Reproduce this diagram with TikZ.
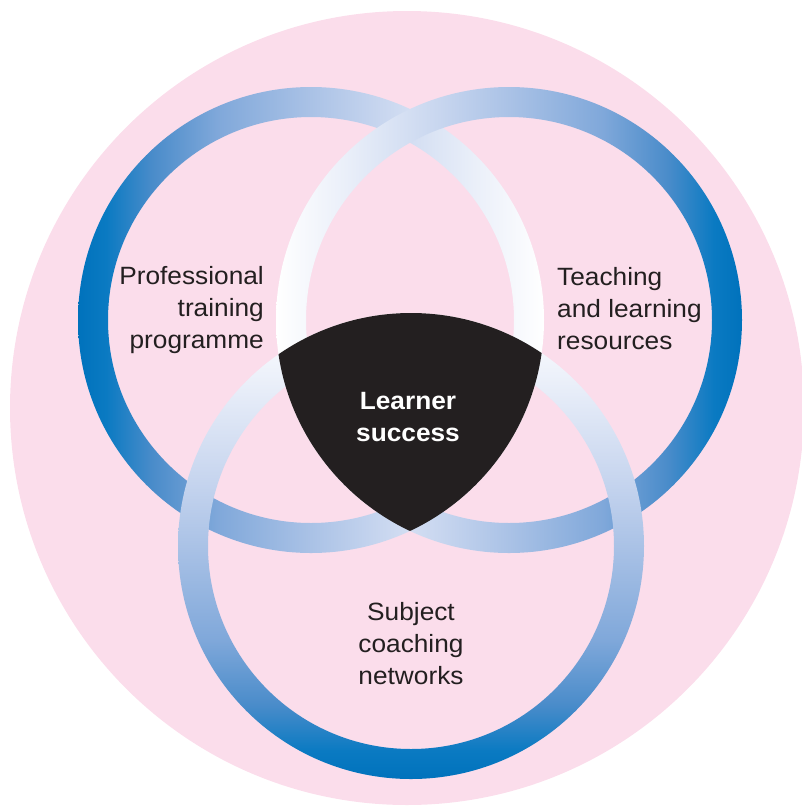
\documentclass[tikz,border=0pt]{standalone}
\usepackage{fontspec}
\setmainfont{Liberation Sans}[FakeStretch=1.05]

\definecolor{pinkbg}{HTML}{FBDDEB}
\definecolor{inkdark}{HTML}{231F20}
\definecolor{rb0}{HTML}{0072BC}
\definecolor{rb1}{HTML}{0A7AC2}
\definecolor{rb2}{HTML}{4A8CCA}
\definecolor{rb3}{HTML}{80A8DA}
\definecolor{rb4}{HTML}{AAC2E6}
\definecolor{rb5}{HTML}{C8D6EF}
\definecolor{rb6}{HTML}{EAEFF9}

% blue-to-white fade across a ring (the middle 25bp--75bp spans the ring)
\pgfdeclarehorizontalshading{ringfade}{100bp}{%
  color(0bp)=(rb0); color(25bp)=(rb0); color(28bp)=(rb1); color(33bp)=(rb2);
  color(40bp)=(rb3); color(50bp)=(rb4); color(57.5bp)=(rb5); color(67.5bp)=(rb6);
  color(75bp)=(white); color(100bp)=(white)}
\pgfdeclareverticalshading{ringfadev}{100bp}{%
  color(0bp)=(rb0); color(25bp)=(rb0); color(28bp)=(rb1); color(33bp)=(rb2);
  color(40bp)=(rb3); color(50bp)=(rb4); color(57.5bp)=(rb5); color(67.5bp)=(rb6);
  color(75bp)=(white); color(100bp)=(white)}

\begin{document}
\begin{tikzpicture}[x=1pt, y=-1pt,
  ringtext/.style={text=inkdark, font=\fontsize{25}{32}\selectfont, inner sep=0pt},
  centretext/.style={text=white, font=\fontsize{25}{32}\selectfont\bfseries, inner sep=0pt, align=center},
  ringband/.style={even odd rule}]
\useasboundingbox (0,0) rectangle (802,807);

% background disc
\fill[pinkbg] (407,408) circle[radius=397pt];

% ring centres
\coordinate (L) at (311,320);
\coordinate (R) at (509,320);
\coordinate (B) at (411,546);

% the three rings
\shade[ringband, shading=ringfade]
  (L) circle[radius=233pt] (L) circle[radius=203pt];
\shade[ringband, shading=ringfade, shading angle=180]
  (R) circle[radius=233pt] (R) circle[radius=203pt];
\shade[ringband, shading=ringfadev]
  (B) circle[radius=233pt] (B) circle[radius=203pt];

% common core of the three discs
\begin{scope}
  \clip (L) circle[radius=233pt];
  \clip (R) circle[radius=233pt];
  \fill[inkdark] (B) circle[radius=233pt];
\end{scope}

% labels (base anchor sits on the last line)
\node[ringtext, align=right, anchor=base east] (prof) at (264,348)
  {Professional\\training\\programme};
\node[ringtext, align=left, anchor=base west] (teach) at (557,349)
  {Teaching\\and learning\\resources};
\node[ringtext, align=center, anchor=base] (subj) at (411,684)
  {Subject\\coaching\\networks};
\node[centretext, anchor=base] (core) at (408,441)
  {Learner\\success};
\end{tikzpicture}
\end{document}
